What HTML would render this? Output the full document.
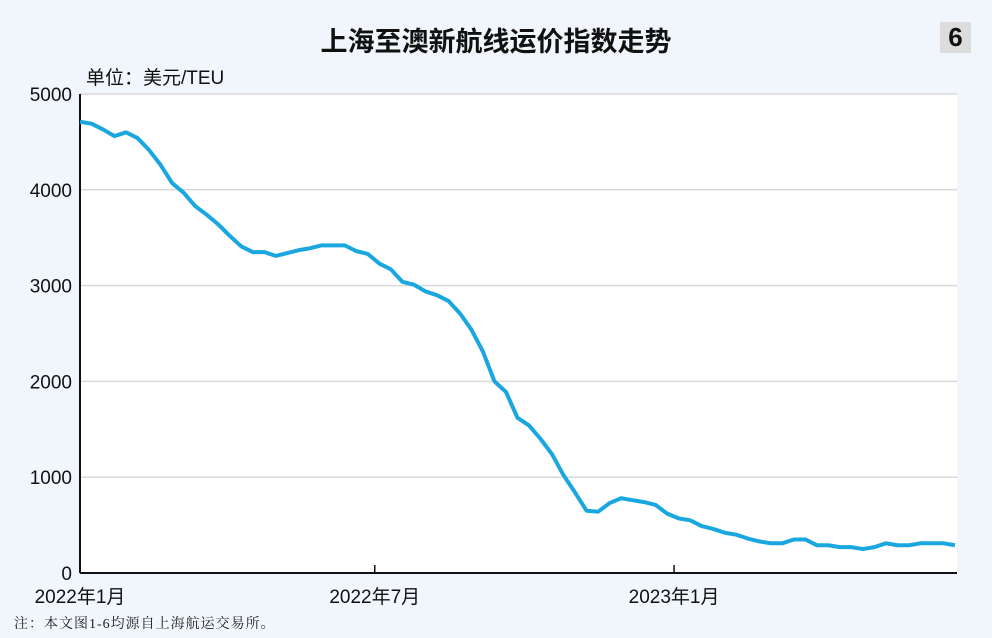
<!DOCTYPE html>
<html><head><meta charset="utf-8">
<style>
html,body{margin:0;padding:0;background:#f0f6fb;}
body{width:992px;height:638px;position:relative;overflow:hidden;font-family:"Liberation Sans","Noto Sans CJK SC",sans-serif;}
.t{position:absolute;}
</style></head><body>
<div class="t" style="left:0;width:992px;top:20px;text-align:center;font-size:27px;font-weight:bold;color:#111;">上海至澳新航线运价指数走势</div>
<div class="t" style="left:940px;top:22px;width:31px;height:31px;background:#dcdcdc;font-size:26px;font-weight:bold;text-align:center;line-height:31px;color:#111;">6</div>
<div class="t" style="left:86px;top:63px;font-size:19px;color:#111;">单位：美元/TEU</div>
<div class="t" style="left:14px;top:613px;font-size:14px;color:#222;font-family:'Liberation Serif','Noto Serif CJK SC',serif;letter-spacing:1px;">注：本文图1-6均源自上海航运交易所。</div>
<svg id="chart" width="992" height="638" style="position:absolute;left:0;top:0;"></svg>
<script>
const xLabels=["2022年1月","2022年7月","2023年1月"];
const xLabelIdx=[0,25.6,51.6];
const yTicks=[0,1000,2000,3000,4000,5000];
const values=[4710,4690,4630,4560,4600,4540,4415,4260,4070,3970,3830,3740,3640,3520,3410,3350,3350,3310,3340,3370,3390,3420,3420,3420,3360,3330,3230,3170,3040,3010,2940,2900,2840,2710,2540,2310,2000,1890,1620,1540,1400,1240,1020,840,650,640,730,780,760,740,710,620,570,550,490,460,420,400,360,330,310,310,350,350,290,290,270,270,250,270,310,290,290,310,310,310,290];
const svg=document.getElementById('chart');
const NS='http://www.w3.org/2000/svg';
const X0=80,X1=955,Y0=573,Y1=94;
const xs=i=>X0+(X1-X0)*i/(values.length-1);
const ys=v=>Y0-(Y0-Y1)*v/5000;
function mk(t,a){const e=document.createElementNS(NS,t);for(const k in a)e.setAttribute(k,a[k]);svg.appendChild(e);return e;}
const bg=mk('rect',{x:X0,y:Y1,width:X1-X0+2,height:Y0-Y1,fill:'#fff'});


yTicks.forEach(v=>{
  if(v>0){const g=mk('line',{x1:X0,x2:X1+2,y1:ys(v),y2:ys(v),stroke:'#d9d9d9','stroke-width':1.5});
  
  }
  const t=mk('text',{x:X0-8,y:ys(v)+7,'text-anchor':'end','font-size':19,fill:'#111','font-family':'Liberation Sans, sans-serif'});
  t.textContent=v;
  
  
});
const ya=mk('line',{x1:X0,x2:X0,y1:Y1,y2:Y0,stroke:'#111','stroke-width':2});


const xa=mk('line',{x1:X0,x2:X1+2,y1:Y0,y2:Y0,stroke:'#111','stroke-width':2});


xLabels.forEach((l,k)=>{
  const x=xs(xLabelIdx[k]);
  if(k>0){const tk=mk('line',{x1:x,x2:x,y1:Y0-8,y2:Y0,stroke:'#111','stroke-width':1.5});
  
  }
  const t=mk('text',{x:x,y:603,'text-anchor':'middle','font-size':19,fill:'#111','font-family':'Liberation Sans, Noto Sans CJK SC, sans-serif'});
  t.textContent=l;
  
  
});
const p=mk('polyline',{points:values.map((v,i)=>xs(i)+','+ys(v)).join(' '),fill:'none',stroke:'#1aa7e0','stroke-width':4,'stroke-linejoin':'round'});


</script>
</body></html>
